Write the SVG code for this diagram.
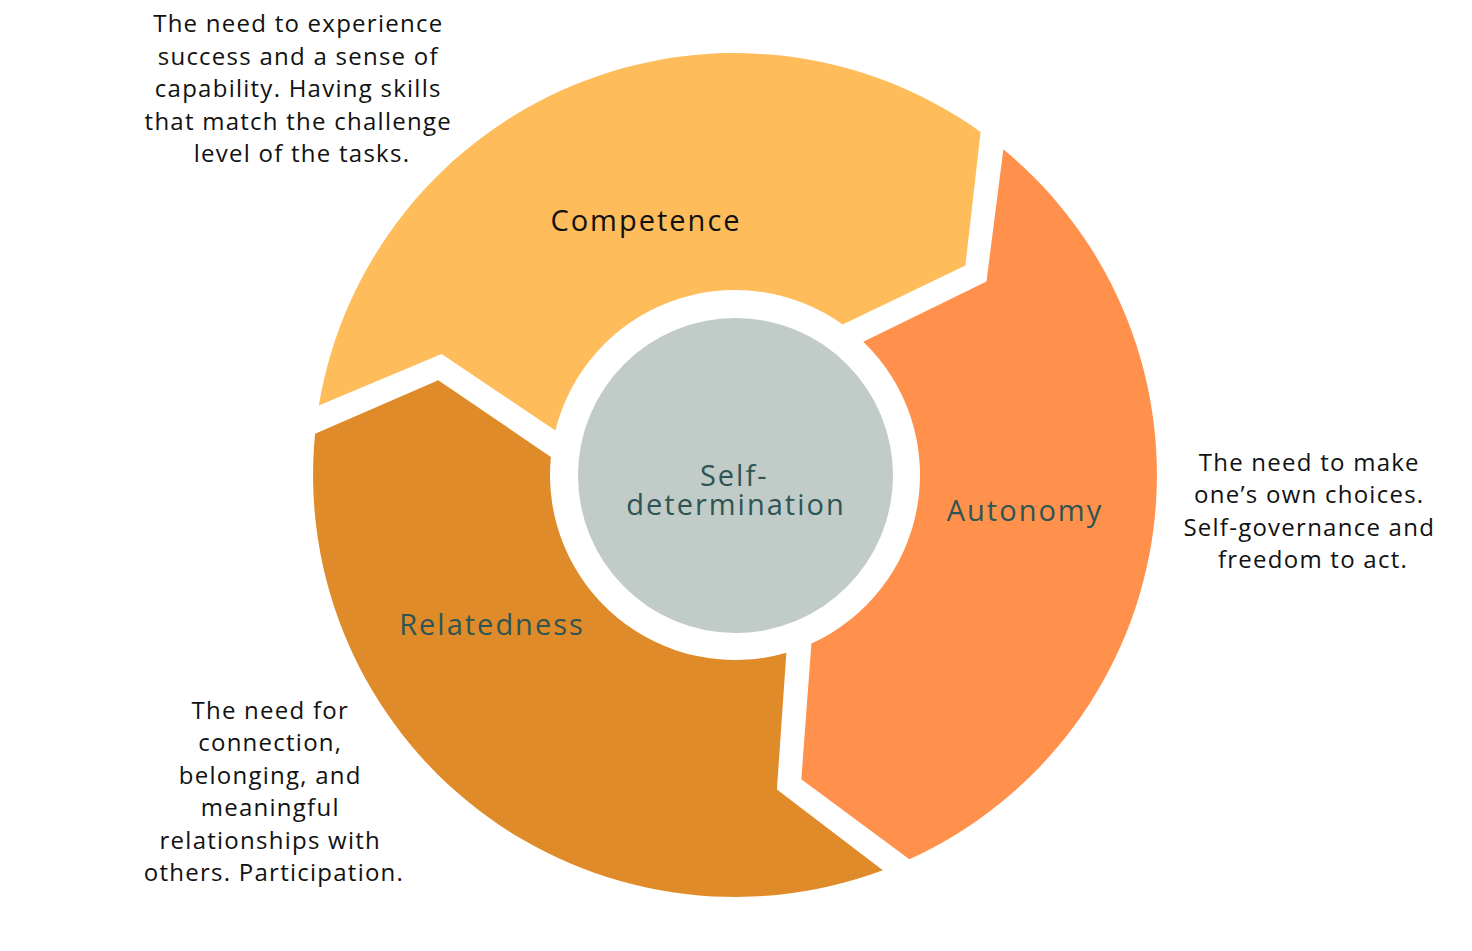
<svg xmlns="http://www.w3.org/2000/svg" width="1472" height="951" viewBox="0 0 1472 951">
  <style>
    .lbl { font-family: "Open Sans", "Noto Sans", "Liberation Sans", sans-serif; font-size: 29px; letter-spacing: 2px; text-anchor: middle; fill: #2E5553; }
    .desc { font-family: "Open Sans", "Noto Sans", "Liberation Sans", sans-serif; font-size: 24px; letter-spacing: 1.25px; text-anchor: middle; fill: #111111; }
  </style>
  <defs>
    <path id="seg" d="M 318.8 405.4 A 422 422 0 0 1 980.6 131.9 L 965.4 265.4 L 842.7 324.6 A 185 185 0 0 0 555.4 430.6 L 441.6 354 Z"/>
  </defs>
  <rect width="1472" height="951" fill="#FFFFFF"/>
  <g id="connectors"></g>
  <g id="node-competence">
    <use href="#seg" fill="#FEBC5A"/>
    <text class="lbl" x="646" y="231" style="fill:#111111">Competence</text>
    <text class="desc" x="302">
      <tspan x="302" y="32">The need to experience</tspan>
      <tspan x="302" y="64.5">success and a sense of</tspan>
      <tspan x="302" y="97">capability. Having skills</tspan>
      <tspan x="302" y="129.5">that match the challenge</tspan>
      <tspan x="302" y="162">level of the tasks.</tspan>
    </text>
  </g>
  <g id="node-autonomy">
    <use href="#seg" fill="#FF914D" transform="rotate(120 735 475)"/>
    <text class="lbl" x="1025" y="521">Autonomy</text>
    <text class="desc" x="1313">
      <tspan x="1313" y="470.5">The need to make</tspan>
      <tspan x="1313" y="503">one’s own choices.</tspan>
      <tspan x="1313" y="535.5">Self-governance and</tspan>
      <tspan x="1313" y="568">freedom to act.</tspan>
    </text>
  </g>
  <g id="node-relatedness">
    <use href="#seg" fill="#E08B29" transform="rotate(240 735 475)"/>
    <text class="lbl" x="492" y="635">Relatedness</text>
    <text class="desc" x="274">
      <tspan x="274" y="718.5">The need for</tspan>
      <tspan x="274" y="751">connection,</tspan>
      <tspan x="274" y="783.5">belonging, and</tspan>
      <tspan x="274" y="816">meaningful</tspan>
      <tspan x="274" y="848.5">relationships with</tspan>
      <tspan x="274" y="881">others. Participation.</tspan>
    </text>
  </g>
  <g id="node-self-determination">
    <circle cx="735.5" cy="475.5" r="157.5" fill="#C1CBC8"/>
    <text class="lbl" x="739">
      <tspan x="739" y="486">Self-</tspan>
      <tspan x="736" y="515">determination</tspan>
    </text>
  </g>
</svg>
